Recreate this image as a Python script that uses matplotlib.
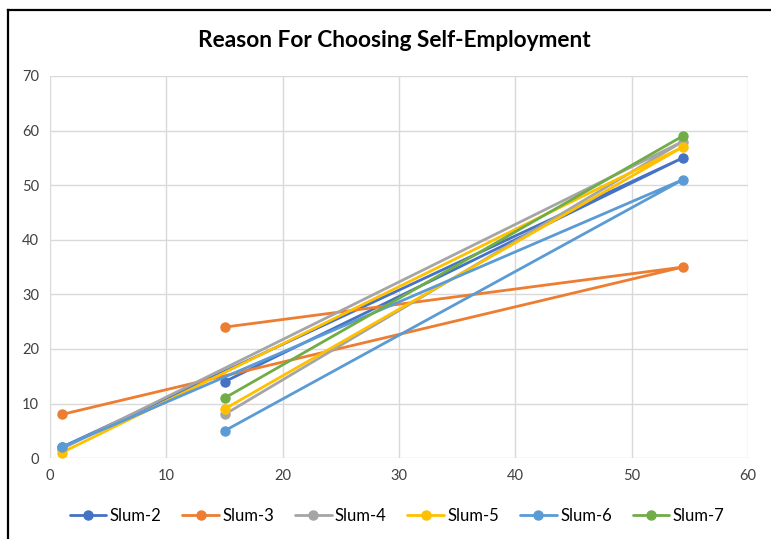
import numpy as np
import matplotlib.pyplot as plt
from matplotlib.lines import Line2D

plt.rcParams['font.family'] = ['Lato', 'DejaVu Sans']

# x positions in plotting order: low point, high point, then middle point
x_vals = [1, 54.4, 15]
slum_2 = [2, 55, 14]
slum_3 = [8, 35, 24]
slum_4 = [1.7, 58, 8]
slum_5 = [1, 57, 9]
slum_6 = [2, 51, 5]
slum_7 = [np.nan, 59, 11]

series = [
    ('Slum-2', slum_2, '#4472C4'),
    ('Slum-3', slum_3, '#ED7D31'),
    ('Slum-4', slum_4, '#A5A5A5'),
    ('Slum-5', slum_5, '#FFC000'),
    ('Slum-6', slum_6, '#5B9BD5'),
    ('Slum-7', slum_7, '#70AD47'),
]

fig = plt.figure(figsize=(7.71, 5.39), dpi=100)
ax = fig.add_axes([0.065, 0.150, 0.905, 0.709])

for name, vals, col in series:
    ax.plot(x_vals, vals, color=col, lw=2.0, marker='o', markersize=6.5,
            label=name, solid_capstyle='round')

ax.set_xlim(0, 60)
ax.set_ylim(0, 70)
ax.set_xticks(range(0, 61, 10))
ax.set_yticks(range(0, 71, 10))
ax.grid(True, color='#D9D9D9', lw=1)
ax.set_axisbelow(True)
for s in ax.spines.values():
    s.set_visible(False)
ax.tick_params(length=0, labelsize=10.5, colors='#404040', pad=8)

fig.text(0.512, 0.925, 'Reason For Choosing Self-Employment',
         ha='center', va='center', fontsize=16.3, fontweight='bold')

fig.legend(loc='center', bbox_to_anchor=(0.515, 0.043), ncol=6, frameon=False,
           fontsize=12, handlelength=2.2, columnspacing=1.25, handletextpad=0.2)

# frame around the chart (top and left edges)
fig.add_artist(Line2D([0.0104, 0.0104], [0, 0.981], color='black', lw=1.6,
                      transform=fig.transFigure))
fig.add_artist(Line2D([0.0104, 1.0], [0.981, 0.981], color='black', lw=1.6,
                      transform=fig.transFigure))

fig.savefig('out.png', dpi=100)
